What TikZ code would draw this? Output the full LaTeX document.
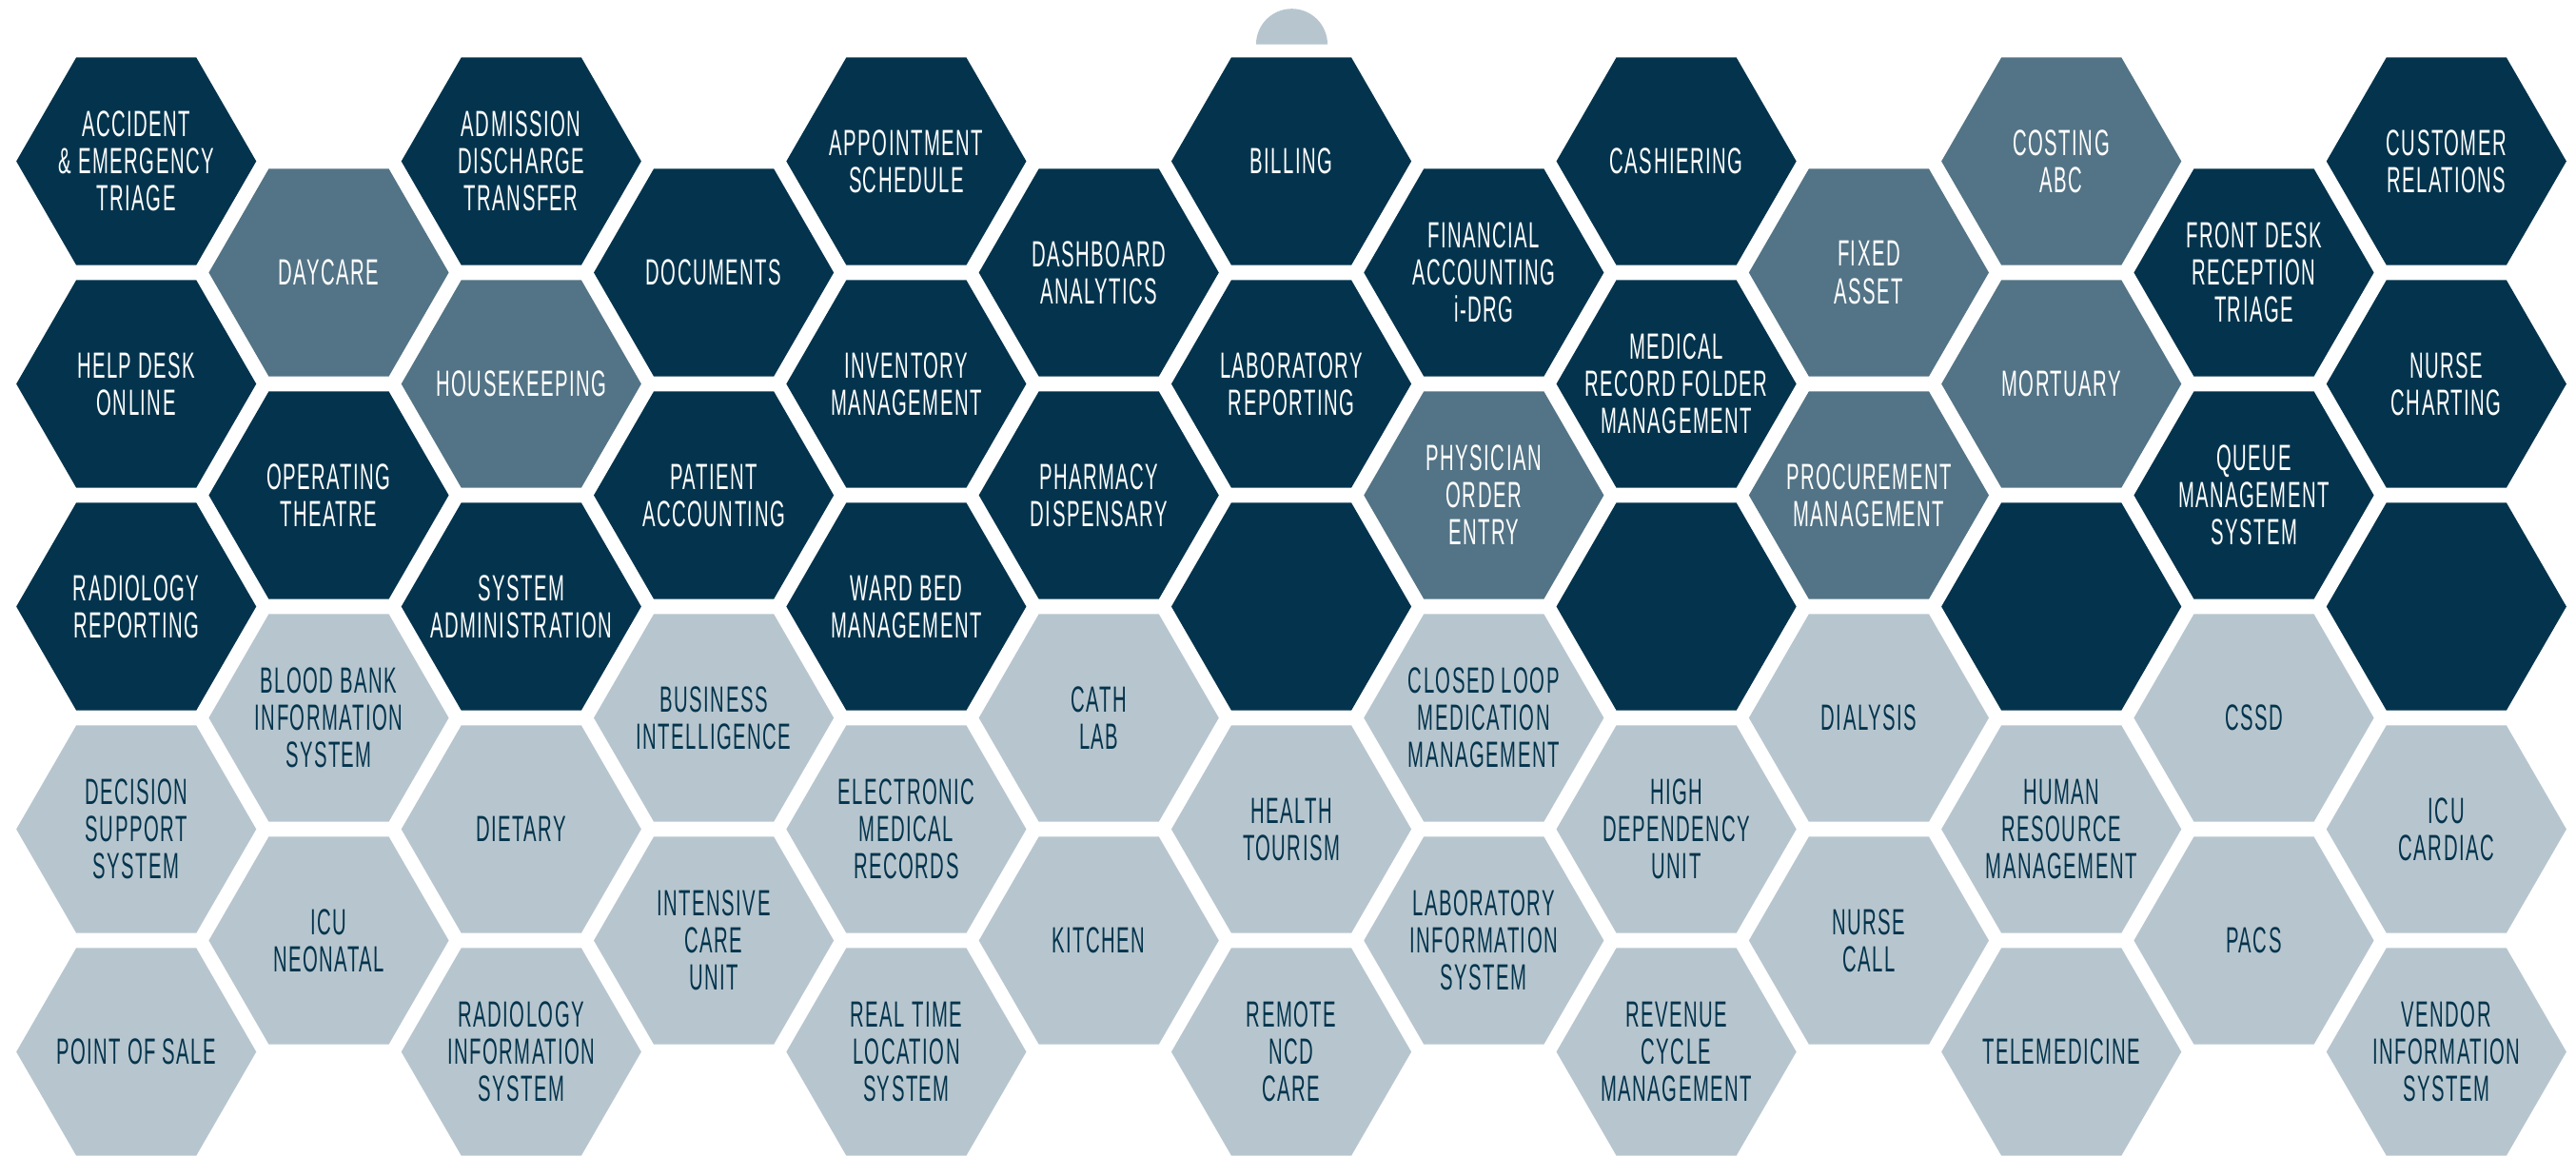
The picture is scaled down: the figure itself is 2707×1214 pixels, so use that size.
\documentclass[tikz,border=0pt]{standalone}
\usepackage{fontspec}
\setmainfont{Liberation Sans}[FakeStretch=0.53,LetterSpace=3.8]
\usetikzlibrary{shapes.geometric}
\definecolor{navy}{HTML}{04344D}
\definecolor{slate}{HTML}{537486}
\definecolor{pale}{HTML}{B7C6CE}
\tikzset{
  hexbase/.style={regular polygon, regular polygon sides=6, minimum size=2.52cm,
    inner sep=0pt, outer sep=0pt},
  hexdark/.style={hexbase, fill=navy},
  hexmid/.style={hexbase, fill=slate},
  hexlight/.style={hexbase, fill=pale},
  labelbase/.style={inner sep=0pt, align=center, font=\fontsize{10.9}{11.1}\selectfont},
  hexdarklabel/.style={labelbase, text=white},
  hexmidlabel/.style={labelbase, text=white},
  hexlightlabel/.style={labelbase, text=navy},
}
% #1 style, #2 name, #3 position, #4 text
\newcommand{\hexcell}[4]{%
  \node[#1] (#2) at (#3) {};
  \node[#1label] (#2t) at (#2.center) {#4};}
\begin{document}
\begin{tikzpicture}[x=0.01cm,y=-0.01cm]
\useasboundingbox (0,0) rectangle (2707,1214);
% top ornament
\fill[pale] (1395,46.7) arc[start angle=0,end angle=180,radius=0.375cm] -- cycle;
% column 0
\hexcell{hexdark}{c0r0}{143.2,169.5}{ACCIDENT\\\& EMERGENCY\\TRIAGE}
\hexcell{hexdark}{c0r1}{143.2,403.5}{HELP DESK\\ONLINE}
\hexcell{hexdark}{c0r2}{143.2,637.5}{RADIOLOGY\\REPORTING}
\hexcell{hexlight}{c0r3}{143.2,871.5}{DECISION\\SUPPORT\\SYSTEM}
\hexcell{hexlight}{c0r4}{143.2,1105.5}{POINT OF SALE}
% column 1
\hexcell{hexmid}{c1r0}{345.5,286.5}{DAYCARE}
\hexcell{hexdark}{c1r1}{345.5,520.5}{OPERATING\\THEATRE}
\hexcell{hexlight}{c1r2}{345.5,754.5}{BLOOD BANK\\INFORMATION\\SYSTEM}
\hexcell{hexlight}{c1r3}{345.5,988.5}{ICU\\NEONATAL}
% column 2
\hexcell{hexdark}{c2r0}{547.8,169.5}{ADMISSION\\DISCHARGE\\TRANSFER}
\hexcell{hexmid}{c2r1}{547.8,403.5}{HOUSEKEEPING}
\hexcell{hexdark}{c2r2}{547.8,637.5}{SYSTEM\\ADMINISTRATION}
\hexcell{hexlight}{c2r3}{547.8,871.5}{DIETARY}
\hexcell{hexlight}{c2r4}{547.8,1105.5}{RADIOLOGY\\INFORMATION\\SYSTEM}
% column 3
\hexcell{hexdark}{c3r0}{750.1,286.5}{DOCUMENTS}
\hexcell{hexdark}{c3r1}{750.1,520.5}{PATIENT\\ACCOUNTING}
\hexcell{hexlight}{c3r2}{750.1,754.5}{BUSINESS\\INTELLIGENCE}
\hexcell{hexlight}{c3r3}{750.1,988.5}{INTENSIVE\\CARE\\UNIT}
% column 4
\hexcell{hexdark}{c4r0}{952.4,169.5}{APPOINTMENT\\SCHEDULE}
\hexcell{hexdark}{c4r1}{952.4,403.5}{INVENTORY\\MANAGEMENT}
\hexcell{hexdark}{c4r2}{952.4,637.5}{WARD BED\\MANAGEMENT}
\hexcell{hexlight}{c4r3}{952.4,871.5}{ELECTRONIC\\MEDICAL\\RECORDS}
\hexcell{hexlight}{c4r4}{952.4,1105.5}{REAL TIME\\LOCATION\\SYSTEM}
% column 5
\hexcell{hexdark}{c5r0}{1154.7,286.5}{DASHBOARD\\ANALYTICS}
\hexcell{hexdark}{c5r1}{1154.7,520.5}{PHARMACY\\DISPENSARY}
\hexcell{hexlight}{c5r2}{1154.7,754.5}{CATH\\LAB}
\hexcell{hexlight}{c5r3}{1154.7,988.5}{KITCHEN}
% column 6
\hexcell{hexdark}{c6r0}{1357.0,169.5}{BILLING}
\hexcell{hexdark}{c6r1}{1357.0,403.5}{LABORATORY\\REPORTING}
\node[hexdark] (c6r2) at (1357.0,637.5) {};
\hexcell{hexlight}{c6r3}{1357.0,871.5}{HEALTH\\TOURISM}
\hexcell{hexlight}{c6r4}{1357.0,1105.5}{REMOTE\\NCD\\CARE}
% column 7
\hexcell{hexdark}{c7r0}{1559.3,286.5}{FINANCIAL\\ACCOUNTING\\i-DRG}
\hexcell{hexmid}{c7r1}{1559.3,520.5}{PHYSICIAN\\ORDER\\ENTRY}
\hexcell{hexlight}{c7r2}{1559.3,754.5}{CLOSED LOOP\\MEDICATION\\MANAGEMENT}
\hexcell{hexlight}{c7r3}{1559.3,988.5}{LABORATORY\\INFORMATION\\SYSTEM}
% column 8
\hexcell{hexdark}{c8r0}{1761.6,169.5}{CASHIERING}
\hexcell{hexdark}{c8r1}{1761.6,403.5}{MEDICAL\\RECORD FOLDER\\MANAGEMENT}
\node[hexdark] (c8r2) at (1761.6,637.5) {};
\hexcell{hexlight}{c8r3}{1761.6,871.5}{HIGH\\DEPENDENCY\\UNIT}
\hexcell{hexlight}{c8r4}{1761.6,1105.5}{REVENUE\\CYCLE\\MANAGEMENT}
% column 9
\hexcell{hexmid}{c9r0}{1963.9,286.5}{FIXED\\ASSET}
\hexcell{hexmid}{c9r1}{1963.9,520.5}{PROCUREMENT\\MANAGEMENT}
\hexcell{hexlight}{c9r2}{1963.9,754.5}{DIALYSIS}
\hexcell{hexlight}{c9r3}{1963.9,988.5}{NURSE\\CALL}
% column 10
\hexcell{hexmid}{c10r0}{2166.2,169.5}{COSTING\\ABC}
\hexcell{hexmid}{c10r1}{2166.2,403.5}{MORTUARY}
\node[hexdark] (c10r2) at (2166.2,637.5) {};
\hexcell{hexlight}{c10r3}{2166.2,871.5}{HUMAN\\RESOURCE\\MANAGEMENT}
\hexcell{hexlight}{c10r4}{2166.2,1105.5}{TELEMEDICINE}
% column 11
\hexcell{hexdark}{c11r0}{2368.5,286.5}{FRONT DESK\\RECEPTION\\TRIAGE}
\hexcell{hexdark}{c11r1}{2368.5,520.5}{QUEUE\\MANAGEMENT\\SYSTEM}
\hexcell{hexlight}{c11r2}{2368.5,754.5}{CSSD}
\hexcell{hexlight}{c11r3}{2368.5,988.5}{PACS}
% column 12
\hexcell{hexdark}{c12r0}{2570.8,169.5}{CUSTOMER\\RELATIONS}
\hexcell{hexdark}{c12r1}{2570.8,403.5}{NURSE\\CHARTING}
\node[hexdark] (c12r2) at (2570.8,637.5) {};
\hexcell{hexlight}{c12r3}{2570.8,871.5}{ICU\\CARDIAC}
\hexcell{hexlight}{c12r4}{2570.8,1105.5}{VENDOR\\INFORMATION\\SYSTEM}
\end{tikzpicture}
\end{document}
